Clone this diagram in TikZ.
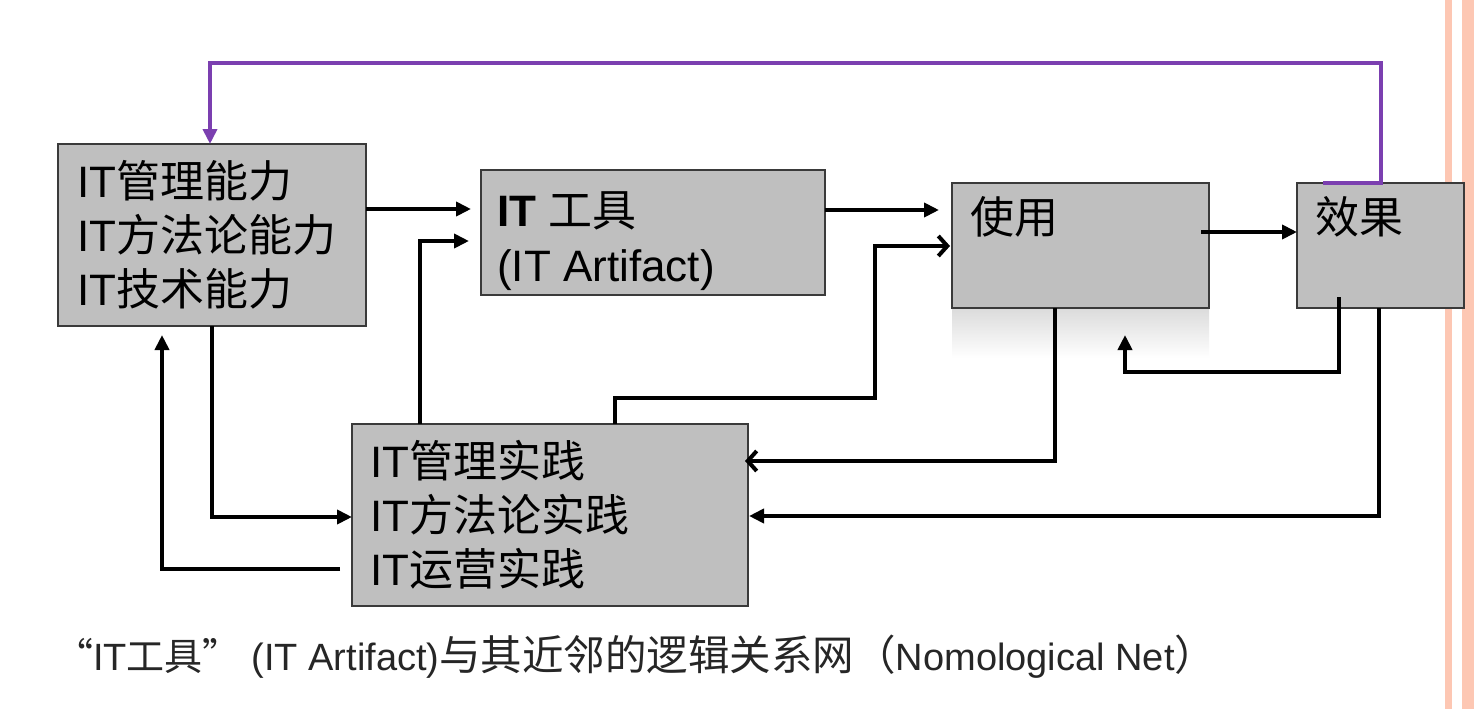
\documentclass[tikz,border=0pt]{standalone}
\usepackage{fontspec}
\setmainfont{Liberation Sans}
\newfontfamily\cjk{Noto Sans CJK SC}
\usetikzlibrary{arrows.meta,calc}
\definecolor{boxgray}{HTML}{BFBFBF}
\definecolor{boxline}{HTML}{3A3A3A}
\definecolor{purp}{HTML}{7B3FB0}
\definecolor{stripe}{HTML}{FDC7B3}
\newcommand{\capzh}[1]{{\cjk\fontsize{41.5}{46}\selectfont #1}}
\begin{document}
\begin{tikzpicture}[x=1pt,y=-1pt,
  box/.style={draw=boxline,line width=1.5pt,fill=boxgray,anchor=north west,inner sep=0pt,outer sep=0pt},
  txt/.style={anchor=base west,inner sep=0pt,font=\fontsize{44}{53}\selectfont},
  captxt/.style={anchor=base west,inner sep=0pt,text=black!85,font=\fontsize{38}{46}\selectfont},
  conn/.style={line width=4pt},
  arr/.style={conn,-{Triangle[length=15pt,width=14pt]}},
  oarr/.style={conn,-{Straight Barb[length=9pt,width=20pt]}},
]
\useasboundingbox (0,0) rectangle (1474,709);
\fill[white] (0,0) rectangle (1474,709);
% stripes
\fill[stripe] (1445,0) rectangle (1452,709);
\fill[stripe] (1462,0) rectangle (1474,709);
% shadow under C
\shade[top color=black!14,bottom color=white] (952,308) rectangle (1209,358);
% boxes
\node[box,minimum width=308pt,minimum height=182pt] (A) at (58,144) {};
\node[box,minimum width=344pt,minimum height=125pt] (B) at (481,170) {};
\node[box,minimum width=257pt,minimum height=125pt] (C) at (952,183) {};
\node[box,minimum width=167pt,minimum height=125pt] (D) at (1297,183) {};
\node[box,minimum width=396pt,minimum height=182pt] (E) at (352,424) {};
% texts
\node[txt] (a1) at (77,197) {IT{\cjk 管理能力}};
\node[txt] (a2) at (77,251) {IT{\cjk 方法论能力}};
\node[txt] (a3) at (77,305) {IT{\cjk 技术能力}};
\node[txt] (b1) at (497,226) {\textbf{IT} {\cjk 工具}};
\node[txt] (b2) at (497,281) {(IT Artifact)};
\node[txt] (c1) at (970,233) {\cjk 使用};
\node[txt] (d1) at (1315,233) {\cjk 效果};
\node[txt] (e1) at (370,477) {IT{\cjk 管理实践}};
\node[txt] (e2) at (370,531) {IT{\cjk 方法论实践}};
\node[txt] (e3) at (370,585) {IT{\cjk 运营实践}};
\node[captxt] (cap) at (55,670) {{\cjk “}IT{\cjk 工具”} (IT Artifact)\capzh{与其近邻的逻辑关系网（}Nomological Net\capzh{）}};
% connectors
\draw[arr] ($(A.north east)+(0,65)$) -- ($(B.north west)+(-10,39)$);
\draw[arr] ($(E.north west)+(68,0)$) |- ($(B.north west)+(-12,71)$);
\draw[arr] ($(B.north east)+(0,40)$) -- ($(C.north west)+(-13,27)$);
\draw[oarr] ($(E.north west)+(263,0)$) -- ++(0,-26) -| ($(C.north west)+(-77,63)$) -- ($(C.north west)+(-2,63)$);
\draw[arr] ($(C.north east)+(-8,49)$) -- ($(D.north west)+(0,49)$);
\draw[conn,purp,-{Triangle[length=15pt,width=14pt]}] ($(D.north west)+(26,0)$) -- ($(D.north west)+(84,0)$) |- ($(A.north west)+(152,-81)$) -- ($(A.north west)+(152,0)$);
\draw[arr] ($(D.north west)+(42,114)$) |- ($(C.south west)+(173,64)$) -- ($(C.south west)+(173,27)$);
\draw[oarr] ($(C.south west)+(103,0)$) |- ($(E.north east)+(-3,37)$);
\draw[arr] ($(D.south west)+(82,0)$) |- ($(E.north east)+(1,92)$);
\draw[arr] (A.south) |- ($(E.north west)+(0,93)$);
\draw[arr] ($(E.north west)+(-12,145)$) -| ($(A.south west)+(104,9)$);
\end{tikzpicture}
\end{document}
